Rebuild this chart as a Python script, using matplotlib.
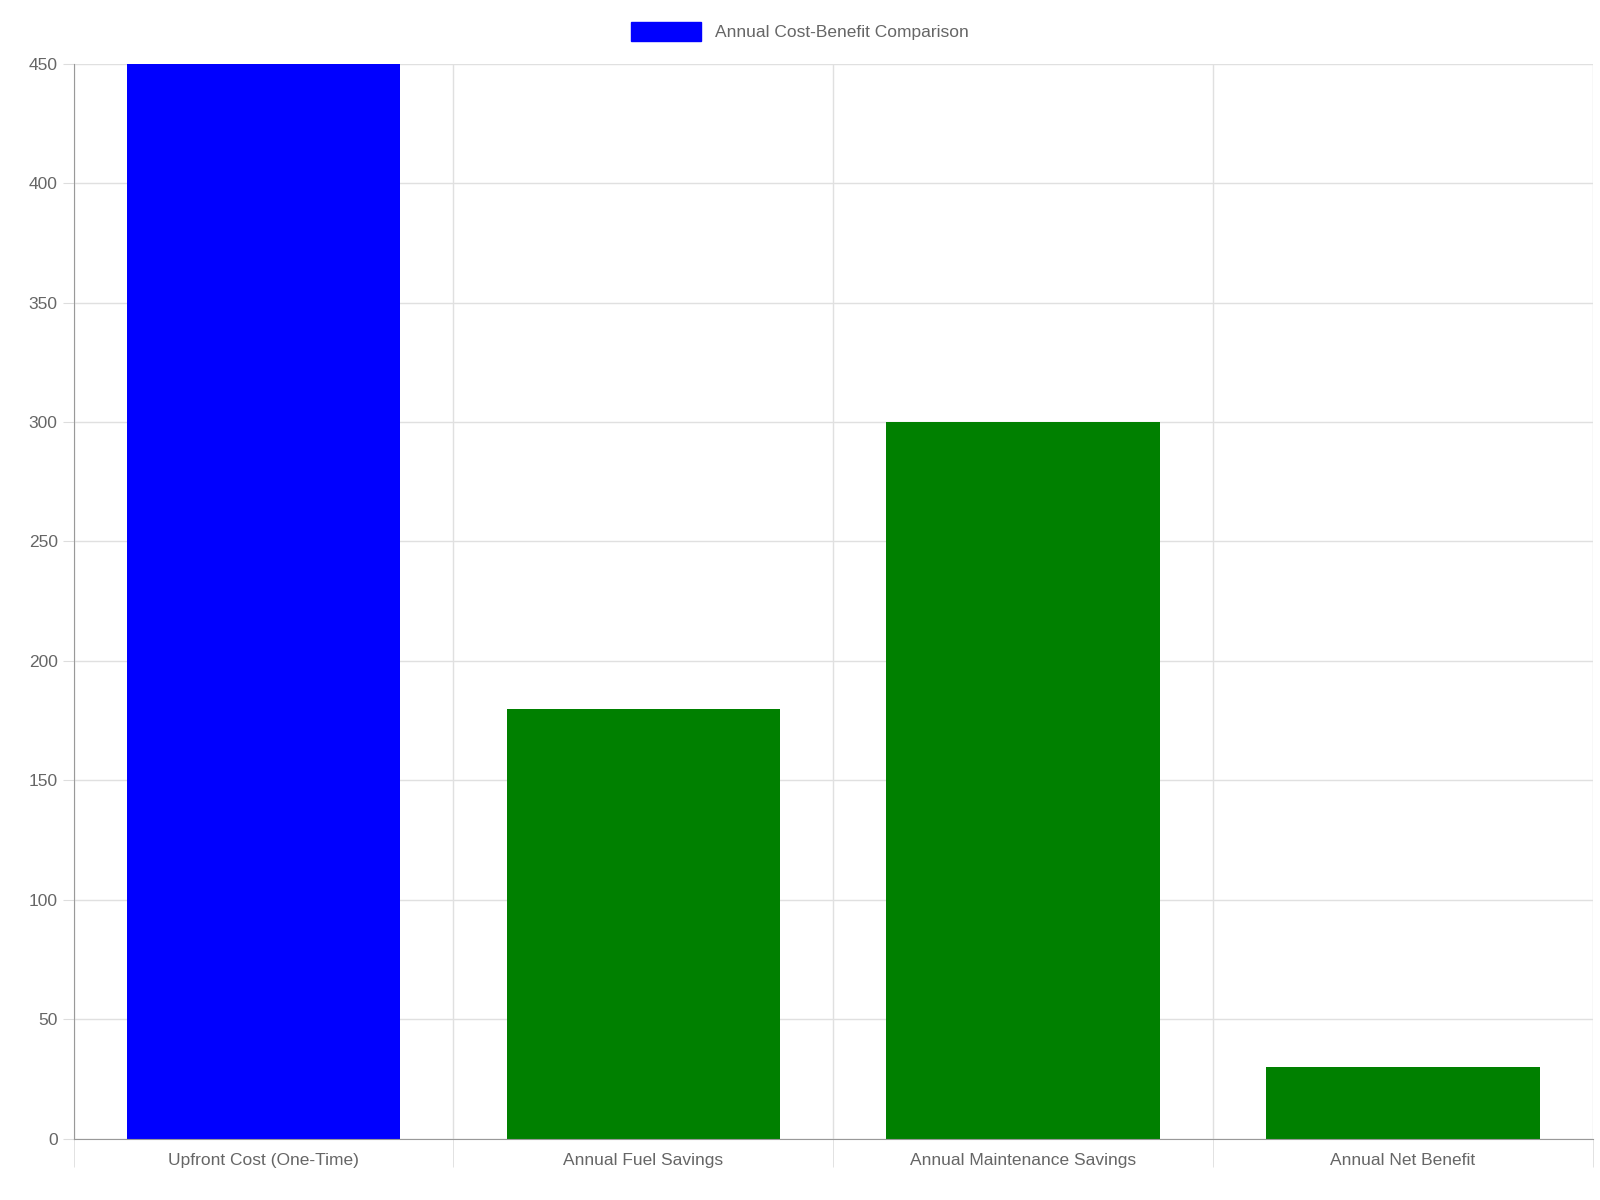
import matplotlib
matplotlib.use("Agg")
import matplotlib.pyplot as plt

categories = ["Upfront Cost (One-Time)", "Annual Fuel Savings", "Annual Maintenance Savings", "Annual Net Benefit"]
values = [450, 180, 300, 30]
colors = ["#0000ff", "#008000", "#008000", "#008000"]
yticks = [0, 50, 100, 150, 200, 250, 300, 350, 400, 450]
legend_label = "Annual Cost-Benefit Comparison"

plt.rcParams['font.family'] = ['Liberation Sans', 'DejaVu Sans']
fig = plt.figure(figsize=(16, 12), dpi=100)
ax = fig.add_axes([0.046, 0.051, 0.9495, 0.896])
x = list(range(len(categories)))
bars = ax.bar(x, values, width=0.72, color=colors, zorder=2)
ax.set_xlim(-0.5, len(categories) - 0.5)
ax.set_ylim(0, 450)
ax.set_yticks(yticks)
ax.set_xticks(x)
ax.set_xticklabels(categories, fontsize=12.5, color="#666666")
ax.tick_params(axis='x', length=0, pad=10)
ax.tick_params(axis='y', labelsize=12.5, labelcolor="#666666", length=8, color="#dddddd")
ax.set_xticks([i + 0.5 for i in range(-1, len(categories))], minor=True)
ax.tick_params(axis='x', which='minor', length=20, color="#dddddd")
ax.grid(axis='y', color="#e0e0e0", linewidth=1, zorder=0)
ax.grid(axis='x', which='minor', color="#e0e0e0", linewidth=1, zorder=0)
for s in ['top', 'right']:
    ax.spines[s].set_visible(False)
ax.spines['left'].set_color("#999999")
ax.spines['bottom'].set_color("#999999")
h = plt.Rectangle((0, 0), 1, 1, color="#0000ff")
fig.legend([h], [legend_label], loc='upper center', bbox_to_anchor=(0.5, 0.995), frameon=False,
           fontsize=12.5, labelcolor="#666666", handlelength=4, handleheight=1.3)
fig.savefig("out.png", dpi=100, facecolor="white")
